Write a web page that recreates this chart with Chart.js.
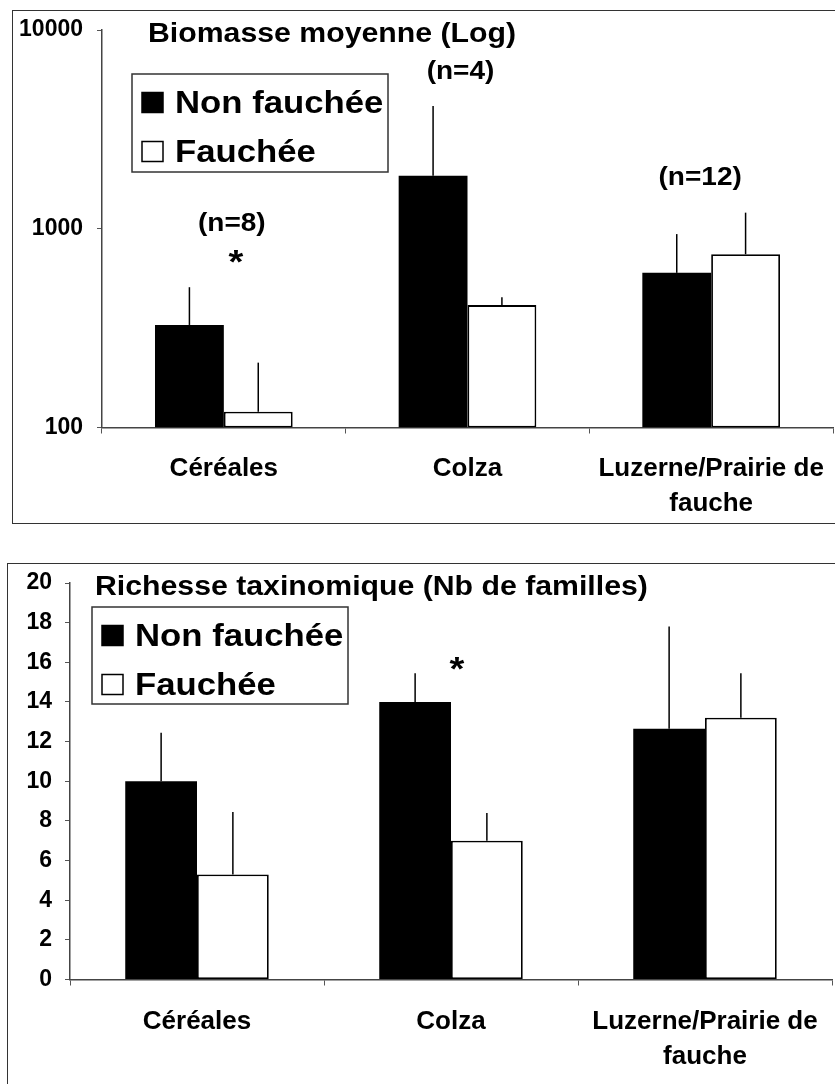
<!DOCTYPE html>
<html>
<head>
<meta charset="utf-8">
<title>Biomasse et richesse taxinomique</title>
<script src="https://cdn.jsdelivr.net/npm/chart.js@4.4.1/dist/chart.umd.min.js"></script>
<style>
  html, body { margin: 0; padding: 0; background: #fff; }
  #page { position: relative; width: 835px; height: 1084px; overflow: hidden; }
  .frame { position: absolute; border: 1.5px solid #333; box-sizing: border-box; }
  .wrap { position: absolute; left: 0; width: 835px; }
</style>
</head>
<body>
<div id="page">
  <div class="frame" style="left:12px; top:10px; width:840px; height:514px;"></div>
  <div class="frame" style="left:7px; top:563px; width:840px; height:600px;"></div>
  <div class="wrap" style="top:0; height:540px;"><canvas id="biomasse" width="835" height="540"></canvas></div>
  <div class="wrap" style="top:540px; height:544px;"><canvas id="richesse" width="835" height="544"></canvas></div>
</div>
<script>
// --------------------------------------------------------------------------
// Data
// --------------------------------------------------------------------------
const categories = ['Céréales', 'Colza', ['Luzerne/Prairie de', 'fauche']];
const seriesNames = ['Non fauchée', 'Fauchée'];

// Biomasse moyenne (log scale), bar value and top of the error whisker
const biomasseNonFauchee = [328, 1850, 600];
const biomasseFauchee = [120, 413, 744];
const biomasseNonFaucheeHaut = [508, 4150, 940];
const biomasseFaucheeHaut = [212, 452, 1205];
const biomasseTicks = [100, 1000, 10000];

// Richesse taxinomique (nb de familles)
const richesseNonFauchee = [10.0, 14.0, 12.65];
const richesseFauchee = [5.3, 7.0, 13.2];
const richesseNonFaucheeHaut = [12.45, 15.45, 17.8];
const richesseFaucheeHaut = [8.45, 8.4, 15.45];
const richesseTicks = [0, 2, 4, 6, 8, 10, 12, 14, 16, 18, 20];

// --------------------------------------------------------------------------
// Shared styling
// --------------------------------------------------------------------------
const FONT = '"Liberation Sans", Arial, Helvetica, sans-serif';
const STRETCH = 1.12;   // the scanned lettering is a bit wider than Arial
Chart.defaults.font.family = FONT;
Chart.defaults.color = '#000';

function wideText(ctx, text, x, y, size, align, baseline) {
    ctx.save();
    ctx.font = 'bold ' + size + 'px ' + FONT;
    ctx.textAlign = align;
    ctx.textBaseline = baseline;
    ctx.fillStyle = '#000';
    ctx.translate(x, y);
    ctx.scale(STRETCH, 1);
    ctx.fillText(text, 0, 0);
    ctx.restore();
}

// Upper whiskers only, no caps
const errorBars = {
    id: 'errorBars',
    afterDatasetsDraw(chart) {
        const ctx = chart.ctx;
        const yScale = chart.scales.y;
        ctx.save();
        ctx.strokeStyle = '#000';
        ctx.lineWidth = 1.5;
        chart.data.datasets.forEach((ds, i) => {
            chart.getDatasetMeta(i).data.forEach((bar, j) => {
                const top = yScale.getPixelForValue(ds.upper[j]);
                ctx.beginPath();
                ctx.moveTo(bar.x, bar.y);
                ctx.lineTo(bar.x, top);
                ctx.stroke();
            });
        });
        ctx.restore();
    }
};

// Title, boxed legend and the (n=..) / * notes
const figureText = {
    id: 'figure',
    afterDraw(chart, args, opts) {
        const ctx = chart.ctx;
        const { x, y } = chart.scales;

        wideText(ctx, opts.title, opts.titleX, opts.titleY, 27, 'left', 'alphabetic');

        const b = opts.legend;
        ctx.save();
        ctx.strokeStyle = '#333';
        ctx.lineWidth = 1.5;
        ctx.strokeRect(b.x, b.y, b.w, b.h);
        ctx.restore();

        chart.data.datasets.forEach((ds, i) => {
            const base = b.y + 38.5 + i * 49;
            ctx.save();
            ctx.fillStyle = ds.backgroundColor;
            ctx.fillRect(b.x + 10, base - 20, 21, 20);
            ctx.strokeStyle = '#000';
            ctx.lineWidth = 1.5;
            ctx.strokeRect(b.x + 10, base - 20, 21, 20);
            ctx.restore();
            wideText(ctx, ds.label, b.x + 43, base, 31, 'left', 'alphabetic');
        });

        opts.notes.forEach(n => {
            const px = x.getPixelForValue(n.cat) + n.dx;
            const py = y.getPixelForValue(n.value);
            if (n.text === '*') {
                wideText(ctx, '*', px, py + 18, 34, 'center', 'alphabetic');
            } else {
                wideText(ctx, n.text, px, py, 25, 'center', 'middle');
            }
        });
    }
};

function xAxis(pad, height) {
    return {
        type: 'category',
        grid: { offset: true, drawOnChartArea: false, drawTicks: true, tickLength: 6, color: '#555', lineWidth: 1 },
        border: { display: true, color: '#444', width: 1.5 },
        ticks: {
            color: '#000',
            font: { size: 26, weight: 'bold', lineHeight: 1.35 },
            padding: pad,
            maxRotation: 0,
            autoSkip: false
        },
        // keep the long last label from shrinking the plot area
        afterFit: s => { s.height = height; s.paddingLeft = 0; s.paddingRight = 0; }
    };
}

function yGrid() {
    return { drawOnChartArea: false, drawTicks: true, tickLength: 5, color: '#555', lineWidth: 1 };
}

function barSets(dark, light, darkTop, lightTop) {
    return [{
        label: seriesNames[0],
        data: dark,
        upper: darkTop,
        backgroundColor: '#000',
        borderColor: '#000',
        borderWidth: 0,
        categoryPercentage: 0.565,
        barPercentage: 1.0
    }, {
        label: seriesNames[1],
        data: light,
        upper: lightTop,
        backgroundColor: '#fff',
        borderColor: '#000',
        borderWidth: 1.8,
        borderSkipped: false,
        categoryPercentage: 0.565,
        barPercentage: 1.0
    }];
}

// --------------------------------------------------------------------------
// Biomasse moyenne (Log)
// --------------------------------------------------------------------------
new Chart(document.getElementById('biomasse').getContext('2d'), {
    type: 'bar',
    data: {
        labels: categories,
        datasets: barSets(biomasseNonFauchee, biomasseFauchee, biomasseNonFaucheeHaut, biomasseFaucheeHaut)
    },
    options: {
        responsive: false,
        animation: false,
        layout: { padding: { left: 0, right: 2, top: 30, bottom: 22.5 } },
        plugins: {
            legend: { display: false },
            tooltip: { enabled: false },
            figure: {
                title: 'Biomasse moyenne (Log)',
                titleX: 148,
                titleY: 42,
                legend: { x: 132, y: 74, w: 256, h: 98 },
                notes: [
                    { text: '(n=8)', cat: 0, value: 1060, dx: 8 },
                    { text: '*', cat: 0, value: 738, dx: 12 },
                    { text: '(n=4)', cat: 1, value: 6150, dx: -7 },
                    { text: '(n=12)', cat: 2, value: 1800, dx: -11 }
                ]
            }
        },
        scales: {
            x: xAxis(17.5, 90),
            y: {
                type: 'logarithmic',
                min: 100,
                max: 10000,
                afterBuildTicks: s => { s.ticks = biomasseTicks.map(v => ({ value: v })); },
                grid: yGrid(),
                border: { display: true, color: '#444', width: 1.5 },
                ticks: {
                    color: '#000',
                    font: { size: 23, weight: 'bold' },
                    padding: 14,
                    callback: v => String(v)
                },
                afterFit: s => { s.width = 102; }
            }
        }
    },
    plugins: [errorBars, figureText]
});

// --------------------------------------------------------------------------
// Richesse taxinomique (Nb de familles)
// --------------------------------------------------------------------------
new Chart(document.getElementById('richesse').getContext('2d'), {
    type: 'bar',
    data: {
        labels: categories,
        datasets: barSets(richesseNonFauchee, richesseFauchee, richesseNonFaucheeHaut, richesseFaucheeHaut)
    },
    options: {
        responsive: false,
        animation: false,
        layout: { padding: { left: 0, right: 3, top: 43, bottom: 4.5 } },
        plugins: {
            legend: { display: false },
            tooltip: { enabled: false },
            figure: {
                title: 'Richesse taxinomique (Nb de familles)',
                titleX: 95,
                titleY: 55,
                legend: { x: 92, y: 67, w: 256, h: 97 },
                notes: [
                    { text: '*', cat: 1, value: 16, dx: 6 }
                ]
            }
        },
        scales: {
            x: xAxis(19, 100),
            y: {
                type: 'linear',
                min: 0,
                max: 20,
                afterBuildTicks: s => { s.ticks = richesseTicks.map(v => ({ value: v })); },
                grid: yGrid(),
                border: { display: true, color: '#444', width: 1.5 },
                ticks: {
                    color: '#000',
                    font: { size: 23, weight: 'bold' },
                    padding: 13
                },
                afterFit: s => { s.width = 70; }
            }
        }
    },
    plugins: [errorBars, figureText]
});
</script>
</body>
</html>
